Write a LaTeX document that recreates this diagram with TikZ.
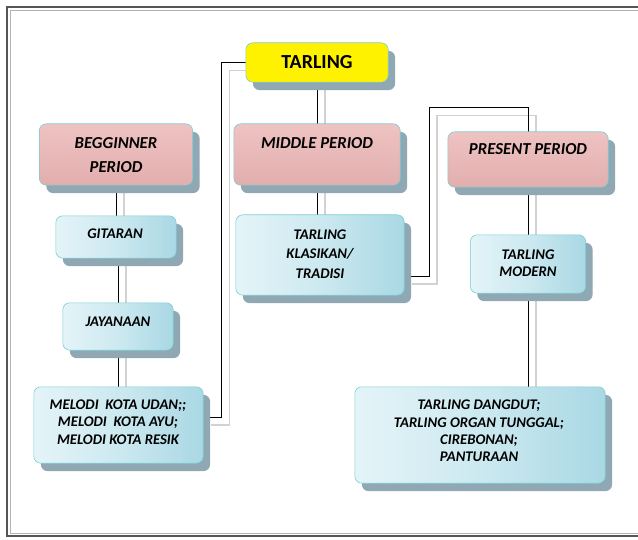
\documentclass[tikz,border=0pt]{standalone}
\usepackage{fontspec}
\setmainfont{Carlito}
\usetikzlibrary{shadows,calc}
\definecolor{shcol}{HTML}{8FA8B3}
\definecolor{edgecol}{HTML}{7ACFD3}
\definecolor{pinkA}{HTML}{EEC3C2}
\definecolor{pinkB}{HTML}{E2AEAE}
\definecolor{blueA}{HTML}{E4F4F8}
\definecolor{blueB}{HTML}{A9D8E4}
\definecolor{frame}{HTML}{555555}
\definecolor{gline}{HTML}{D2D2D2}
\tikzset{
  boxbase/.style={draw=edgecol, line width=0.6bp, rounded corners=7bp, inner sep=0pt,
    drop shadow={shadow xshift=7bp, shadow yshift=-8bp, fill=shcol, opacity=1}},
  yellowbox/.style={boxbase, fill=yellow},
  pinkbox/.style={boxbase, top color=pinkA, bottom color=pinkB},
  bluebox/.style={boxbase, left color=blueA, right color=blueB, middle color=blueA!60!blueB},
  txt/.style={font=\fontsize{14.8}{17.5}\selectfont\bfseries\itshape, align=center, inner sep=0pt},
  ptxt/.style={txt, font=\fontsize{16.8}{24}\selectfont\bfseries\itshape},
  conn/.style={draw=black, line width=0.8bp},
  connsh/.style={draw=gline, line width=1.2bp, transform canvas={xshift=8bp, yshift=-8bp}},
}
\begin{document}
\begin{tikzpicture}[x=1bp, y=-1bp]
\useasboundingbox (0,0) rectangle (638,540);
% frame
\begin{scope}
\clip (0,0) rectangle (638,540);
\draw[frame, line width=1.6bp] (7,7) rectangle (660,536);
\draw[gray!60, line width=0.6bp] (10,10) rectangle (660,533);
\end{scope}

% box geometry (placed first, invisible, so connectors can use names)
\path
  (317,62.5) node[minimum width=142bp, minimum height=39bp] (tarling) {}
  (116,154.5) node[minimum width=153bp, minimum height=61bp] (begginner) {}
  (317,154.5) node[minimum width=166bp, minimum height=61bp] (middle) {}
  (528,159.5) node[minimum width=160bp, minimum height=55bp] (present) {}
  (116,237) node[minimum width=120bp, minimum height=42bp] (gitaran) {}
  (118,326.5) node[minimum width=110bp, minimum height=47bp] (jayanaan) {}
  (118.5,425) node[minimum width=169bp, minimum height=76bp] (melodi) {}
  (320,255) node[minimum width=168bp, minimum height=80bp] (klasikan) {}
  (528,264) node[minimum width=115bp, minimum height=58bp] (modern) {}
  (480,435) node[minimum width=250bp, minimum height=96bp] (bottom) {};

\coordinate (tbend) at ($(tarling.west)+(-24,0)$);
\coordinate (kbend) at ($(present.north)+(-99,-24)$);

% connector shadows
\draw[connsh] (tarling.south) -- (middle.north);
\draw[connsh] (middle.south) -- (middle.south |- klasikan.north);
\draw[connsh] (begginner.south) -- (gitaran.north);
\draw[connsh] (jayanaan.north |- gitaran.south) -- (jayanaan.north);
\draw[connsh] (jayanaan.south) -- (jayanaan.south |- melodi.north);
\draw[connsh] (tarling.west) -- (tbend) |- ([yshift=8bp]melodi.east);
\draw[connsh] ([yshift=-21bp]klasikan.east) -| (kbend) -| (present.north);
\draw[connsh] (present.south) -- (modern.north);
\draw[connsh] (modern.south) -- (modern.south |- bottom.north);

% connectors
\draw[conn] (tarling.south) -- (middle.north);
\draw[conn] (middle.south) -- (middle.south |- klasikan.north);
\draw[conn] (begginner.south) -- (gitaran.north);
\draw[conn] (jayanaan.north |- gitaran.south) -- (jayanaan.north);
\draw[conn] (jayanaan.south) -- (jayanaan.south |- melodi.north);
\draw[conn] (tarling.west) -- (tbend) |- ([yshift=8bp]melodi.east);
\draw[conn] ([yshift=-21bp]klasikan.east) -| (kbend) -| (present.north);
\draw[conn] (present.south) -- (modern.north);
\draw[conn] (modern.south) -- (modern.south |- bottom.north);

% visible boxes
\draw[yellowbox] (tarling.north west) rectangle (tarling.south east);
\foreach \n in {begginner,middle,present} {
  \draw[pinkbox] (\n.north west) rectangle (\n.south east);
}
\foreach \n in {gitaran,jayanaan,melodi,klasikan,modern,bottom} {
  \draw[bluebox] (\n.north west) rectangle (\n.south east);
}

% texts
\node[txt, font=\fontsize{20}{22}\selectfont\bfseries, anchor=center] (tarlingT) at (317,62) {TARLING};
\node[ptxt] (begginnerT) at (116,155) {BEGGINNER\\PERIOD};
\node[ptxt] (middleT) at (317,143) {MIDDLE PERIOD};
\node[ptxt] (presentT) at (528,149) {PRESENT PERIOD};
\node[txt] (gitaranT) at (115,234) {GITARAN};
\node[txt] (jayanaanT) at (118,322) {JAYANAAN};
\node[txt, font=\fontsize{14.8}{19.5}\selectfont\bfseries\itshape] (klasikanT) at (320,254) {TARLING\\KLASIKAN/\\TRADISI};
\node[txt] (modernT) at (528,263) {TARLING\\MODERN};
\node[txt] (melodiT) at (118,422) {MELODI\ \ KOTA UDAN;;\\MELODI\ \ KOTA AYU;\\MELODI KOTA RESIK};
\node[txt] (bottomT) at (479,431) {TARLING DANGDUT;\\TARLING ORGAN TUNGGAL;\\CIREBONAN;\\PANTURAAN};
\end{tikzpicture}
\end{document}
